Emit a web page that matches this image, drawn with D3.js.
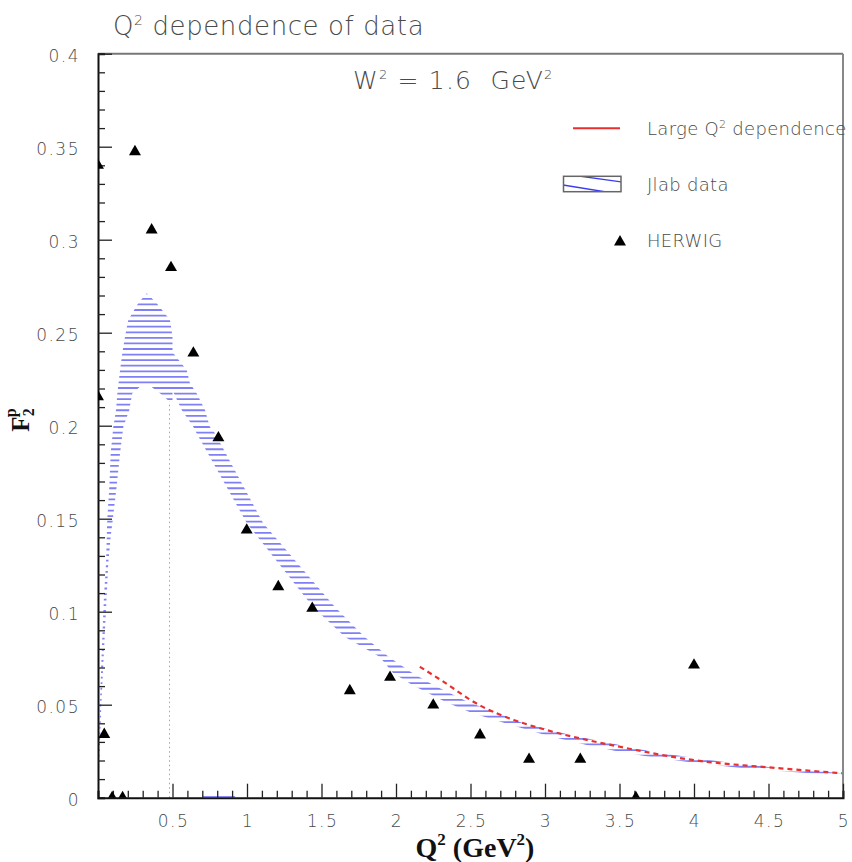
<!DOCTYPE html>
<html>
<head>
<meta charset="utf-8">
<script src="https://cdn.jsdelivr.net/npm/d3@7"></script>
<style>
  body { margin: 0; background: #fff; }
  text { font-family: "DejaVu Sans", sans-serif; font-weight: 200; fill: #4a4a4a; }
  .serif { font-family: "Liberation Serif", "Times New Roman", serif; font-weight: bold; fill: #111; }
</style>
</head>
<body>
<div id="chart"></div>
<script>
const width = 852;
const height = 862;

// HERWIG points
const herwigQ2 = [0.0, 0.0, 0.042, 0.095, 0.165, 0.248, 0.36, 0.49, 0.64, 0.808, 0.998, 1.21, 1.438, 1.69, 1.96, 2.25, 2.564, 2.893, 3.237, 3.61, 4.0];
const herwigF2 = [0.34, 0.2156, 0.034, 0.0, 0.0, 0.3473, 0.3052, 0.285, 0.239, 0.1935, 0.1439, 0.1134, 0.1018, 0.0575, 0.0647, 0.0498, 0.0337, 0.0206, 0.0206, 0.0, 0.0713];

// Jlab band, upper edge (left to right)
const jlabUpQ2 = [0.0, 0.013, 0.022, 0.031, 0.04, 0.054, 0.062, 0.076, 0.085, 0.103, 0.121, 0.13, 0.148, 0.163, 0.181, 0.203, 0.27, 0.327, 0.394, 0.483, 0.5, 0.5, 0.595, 0.617, 0.662, 0.718, 0.75, 0.785, 1.108, 1.59, 1.79, 1.95, 2.11, 2.25, 2.48, 2.68, 2.85, 3.17, 3.5, 3.72, 3.95, 4.24, 4.58, 5.0];
const jlabUpF2 = [0.0, 0.0489, 0.0723, 0.0902, 0.108, 0.126, 0.1493, 0.1672, 0.1852, 0.1995, 0.2084, 0.2174, 0.230, 0.2389, 0.2478, 0.2568, 0.2658, 0.2712, 0.2658, 0.2568, 0.248, 0.2395, 0.230, 0.2228, 0.2174, 0.2084, 0.1995, 0.196, 0.1477, 0.1025, 0.0864, 0.0758, 0.067, 0.0606, 0.0516, 0.0455, 0.0402, 0.0337, 0.0283, 0.0247, 0.022, 0.0188, 0.0158, 0.0131];

// Jlab band, lower edge (left to right)
const jlabLoQ2 = [0.0, 0.022, 0.036, 0.047, 0.058, 0.069, 0.085, 0.099, 0.125, 0.148, 0.17, 0.21, 0.23, 0.28, 0.32, 0.36, 0.416, 0.48, 0.5, 0.5, 0.562, 0.64, 0.662, 0.998, 1.443, 1.658, 1.89, 1.98, 2.11, 2.33, 2.51, 2.73, 3.0, 3.28, 3.5, 3.7, 4.0, 4.33, 4.78, 5.0];
const jlabLoF2 = [0.0, 0.0489, 0.0723, 0.0902, 0.108, 0.126, 0.1403, 0.1493, 0.1672, 0.1852, 0.1995, 0.2084, 0.2174, 0.2208, 0.2225, 0.2208, 0.2174, 0.213, 0.2125, 0.219, 0.2084, 0.1995, 0.196, 0.1477, 0.1025, 0.0864, 0.0758, 0.067, 0.0606, 0.0516, 0.0455, 0.0402, 0.0337, 0.0283, 0.0247, 0.022, 0.0188, 0.0158, 0.0131, 0.0122];

const jlabFloorQ2 = [0.7, 0.92];
const jlabCutQ2 = 0.48;
const jlabCutF2 = 0.213;

// Large Q2 dependence curve
const largeQ2 = [2.16, 2.3, 2.56, 2.79, 3.01, 3.5, 3.99, 4.58, 5.0];
const largeF2 = [0.0704, 0.0633, 0.0498, 0.0418, 0.0364, 0.0274, 0.0203, 0.0158, 0.0131];

const xTickLabels = [0.5, 1, 1.5, 2, 2.5, 3, 3.5, 4, 4.5, 5];
const yTickLabels = [0, 0.05, 0.1, 0.15, 0.2, 0.25, 0.3, 0.35, 0.4];

const margin = { left: 98, right: 9, top: 53.7, bottom: 64.3 };

const x = d3.scaleLinear().domain([0, 5]).range([margin.left, width - margin.right]);
const y = d3.scaleLinear().domain([0, 0.4]).range([height - margin.bottom, margin.top]);

let svg = d3.select("#chart")
    .append("svg")
    .attr("width", width)
    .attr("height", height);

svg.append("clipPath").attr("id", "plot-clip")
    .append("rect")
    .attr("x", x(0)).attr("y", y(0.4))
    .attr("width", x(5) - x(0)).attr("height", y(0) - y(0.4));

// band polygon
const upper = jlabUpQ2.map((q, i) => [q, jlabUpF2[i]]);
const lower = jlabLoQ2.map((q, i) => [q, jlabLoF2[i]]);
const bandPts = upper.concat(lower.slice().reverse());
const line = d3.line().x(d => x(d[0])).y(d => y(d[1]));

svg.append("clipPath").attr("id", "band-clip")
    .append("path")
    .attr("d", line(bandPts) + "Z");

// hatch lines
const hatchStep = 5.57;
const hatchStart = y(0.4) + ((293.3 - y(0.4)) % hatchStep);
svg.append("g")
    .attr("clip-path", "url(#band-clip)")
    .selectAll("line")
    .data(d3.range(hatchStart, y(0), hatchStep))
    .join("line")
    .attr("x1", x(0)).attr("x2", x(5))
    .attr("y1", d => d).attr("y2", d => d)
    .attr("stroke", "#4d4df2")
    .attr("stroke-opacity", 0.72)
    .attr("stroke-width", 1.8);

// vertical dotted cut and floor segment
svg.append("line")
    .attr("x1", x(jlabCutQ2)).attr("x2", x(jlabCutQ2))
    .attr("y1", y(0)).attr("y2", y(jlabCutF2))
    .attr("stroke", "#9a9af5")
    .attr("stroke-width", 1)
    .attr("stroke-dasharray", "1.5,3");

svg.append("line")
    .attr("x1", x(jlabFloorQ2[0])).attr("x2", x(jlabFloorQ2[1]))
    .attr("y1", y(0) - 1).attr("y2", y(0) - 1)
    .attr("stroke", "#8a8af5")
    .attr("stroke-width", 1.2);

// red dashed curve
svg.append("path")
    .datum(largeQ2.map((q, i) => [q, largeF2[i]]))
    .attr("fill", "none")
    .attr("stroke", "#e8302f")
    .attr("stroke-width", 2.2)
    .attr("stroke-dasharray", "5,4")
    .attr("d", d3.line().x(d => x(d[0])).y(d => y(d[1])).curve(d3.curveMonotoneX));

// axes frame
svg.append("line")
    .attr("x1", x(0)).attr("x2", x(5)).attr("y1", y(0.4)).attr("y2", y(0.4))
    .attr("stroke", "#777").attr("stroke-width", 2);
svg.append("line")
    .attr("x1", x(5)).attr("x2", x(5)).attr("y1", y(0.4)).attr("y2", y(0))
    .attr("stroke", "#888").attr("stroke-width", 2);

const xAxis = d3.axisBottom(x)
    .tickValues(d3.range(1, 51).map(d => d / 10))
    .tickSize(-7)
    .tickFormat("");
const gx = svg.append("g").attr("transform", `translate(0,${y(0)})`).call(xAxis);
gx.selectAll(".tick line")
    .attr("y2", d => (Math.abs(d * 2 - Math.round(d * 2)) < 1e-6) ? -14 : -7);

const yAxis = d3.axisLeft(y)
    .tickValues(d3.range(1, 41).map(d => d / 100))
    .tickSize(-7)
    .tickFormat("");
const gy = svg.append("g").attr("transform", `translate(${x(0)},0)`).call(yAxis);
gy.selectAll(".tick line")
    .attr("x2", d => (Math.abs(d * 20 - Math.round(d * 20)) < 1e-6) ? 14 : 7);

[gx, gy].forEach(g => {
    g.select(".domain").attr("stroke", "#111").attr("stroke-width", 2);
    g.selectAll(".tick line").attr("stroke", "#222").attr("stroke-width", 1.3);
});

// tick labels
svg.append("g").selectAll("text")
    .data(xTickLabels)
    .join("text")
    .attr("x", d => x(d) + 1)
    .attr("y", y(0) + 29)
    .attr("text-anchor", "middle")
    .attr("font-size", 17)
    .attr("letter-spacing", 1.5)
    .text(d => d);

svg.append("g").selectAll("text")
    .data(yTickLabels)
    .join("text")
    .attr("x", 80)
    .attr("y", d => y(d) + 8.5)
    .attr("text-anchor", "end")
    .attr("font-size", 17)
    .attr("letter-spacing", 1.5)
    .text(d => d);

// HERWIG triangles
svg.append("g")
    .attr("clip-path", "url(#plot-clip)")
    .selectAll("path")
    .data(herwigQ2.map((q, i) => [q, herwigF2[i]]))
    .join("path")
    .attr("transform", d => `translate(${x(d[0])},${y(d[1])})`)
    .attr("d", d3.symbol(d3.symbolTriangle, 62))
    .attr("fill", "#000");

// titles
const title = svg.append("text").attr("x", 113).attr("y", 35).attr("font-size", 26)
    .attr("letter-spacing", 0.6);
title.append("tspan").text("Q");
title.append("tspan").attr("dy", -10).attr("font-size", 14).text("2");
title.append("tspan").attr("dy", 10).text(" dependence of data");

const wtxt = svg.append("text").attr("x", 353).attr("y", 89).attr("font-size", 25)
    .attr("letter-spacing", 1.2);
wtxt.append("tspan").text("W");
wtxt.append("tspan").attr("dy", -10).attr("font-size", 13).text("2");
wtxt.append("tspan").attr("dy", 10).attr("xml:space", "preserve").text(" = 1.6  GeV");
wtxt.append("tspan").attr("dy", -10).attr("font-size", 13).text("2");

// legend
svg.append("line")
    .attr("x1", 573).attr("x2", 620).attr("y1", 128.3).attr("y2", 128.3)
    .attr("stroke", "#e8302f").attr("stroke-width", 2);
const l1 = svg.append("text").attr("x", 647).attr("y", 135).attr("font-size", 18)
    .attr("letter-spacing", 0.3);
l1.append("tspan").text("Large Q");
l1.append("tspan").attr("dy", -7).attr("font-size", 11).text("2");
l1.append("tspan").attr("dy", 7).text(" dependence");

svg.append("clipPath").attr("id", "leg-clip")
    .append("rect").attr("x", 563.5).attr("y", 176.3).attr("width", 57.5).attr("height", 15.4);
const lg = svg.append("g").attr("clip-path", "url(#leg-clip)");
lg.append("line").attr("x1", 563).attr("y1", 185).attr("x2", 606).attr("y2", 192)
    .attr("stroke", "#3b3bef").attr("stroke-width", 1.3);
lg.append("line").attr("x1", 581).attr("y1", 176.3).attr("x2", 622).attr("y2", 182)
    .attr("stroke", "#3b3bef").attr("stroke-width", 1.3);
svg.append("rect").attr("x", 563.5).attr("y", 176.3).attr("width", 57.5).attr("height", 15.4)
    .attr("fill", "none").attr("stroke", "#666").attr("stroke-width", 1.5);
svg.append("text").attr("x", 647).attr("y", 191).attr("font-size", 18).attr("letter-spacing", 0.3)
    .text("Jlab data");

svg.append("path")
    .attr("transform", "translate(620,242)")
    .attr("d", d3.symbol(d3.symbolTriangle, 62))
    .attr("fill", "#000");
svg.append("text").attr("x", 647).attr("y", 247).attr("font-size", 18).attr("letter-spacing", 0.3)
    .text("HERWIG");

// axis titles
const xl = svg.append("text").attr("class", "serif")
    .attr("x", 475).attr("y", 857).attr("text-anchor", "middle").attr("font-size", 28);
xl.append("tspan").text("Q");
xl.append("tspan").attr("dy", -12).attr("font-size", 17).text("2");
xl.append("tspan").attr("dy", 12).text(" (GeV");
xl.append("tspan").attr("dy", -12).attr("font-size", 17).text("2");
xl.append("tspan").attr("dy", 12).text(")");

const yl = svg.append("text").attr("class", "serif")
    .attr("transform", "translate(29,420) rotate(-90)")
    .attr("text-anchor", "middle").attr("font-size", 25);
yl.append("tspan").text("F");
yl.append("tspan").attr("dy", 5).attr("font-size", 16).text("2");
yl.append("tspan").attr("dx", -9).attr("dy", -18).attr("font-size", 16).text("p");
</script>
</body>
</html>
